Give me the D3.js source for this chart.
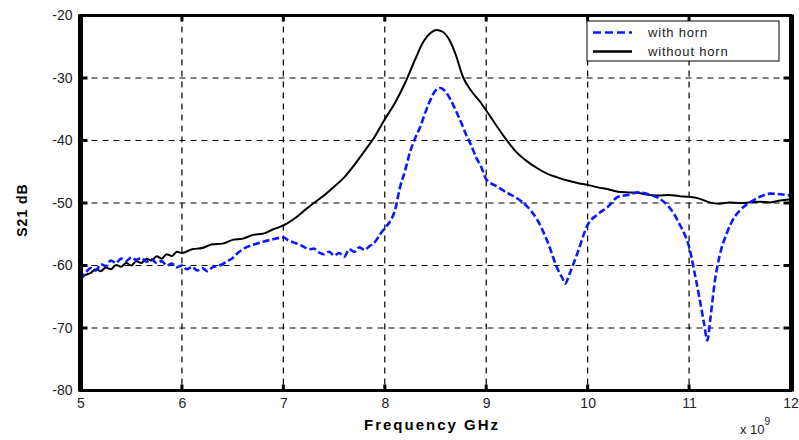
<!DOCTYPE html>
<html lang="en">
<head>
<meta charset="utf-8">
<title>S21 with / without horn</title>
<script src="https://cdn.jsdelivr.net/npm/d3@7"></script>
<style>
  body { margin: 0; background: #fff; }
  text { font-family: "Liberation Sans", Arial, sans-serif; }
</style>
</head>
<body>
<script>
// frequency in units of 1e9 Hz, S21 in dB
var freqBlack = [5.0,5.05,5.1,5.15,5.2,5.25,5.3,5.35,5.4,5.45,5.5,5.55,5.6,5.65,5.7,5.75,5.8,5.85,5.9,5.95,
  6.0,6.1,6.2,6.3,6.4,6.5,6.6,6.7,6.8,6.9,7.0,7.1,7.2,7.3,7.4,7.5,7.6,7.7,7.8,7.9,
  8.0,8.1,8.2,8.3,8.38,8.45,8.51,8.57,8.64,8.7,8.77,8.85,8.94,9.0,9.1,9.2,9.3,9.4,9.5,9.6,9.7,
  9.8,9.9,10.0,10.1,10.2,10.3,10.4,10.5,10.6,10.7,10.8,10.9,11.0,11.1,11.2,11.3,11.4,11.5,11.6,11.7,
  11.8,11.9,12.0];
var withoutHorn = [-62.0,-61.5,-61.2,-60.6,-60.9,-60.3,-60.6,-59.9,-60.2,-59.6,-60.0,-59.3,-59.6,-58.9,-59.2,-58.5,-58.9,-58.2,-58.5,-57.8,
  -58.0,-57.4,-57.2,-56.6,-56.5,-55.9,-55.7,-55.1,-54.9,-54.2,-53.6,-52.6,-51.3,-50.0,-48.8,-47.4,-45.9,-43.9,-41.7,-39.4,
  -36.6,-34.0,-30.8,-27.0,-24.2,-22.8,-22.3,-22.6,-24.0,-26.3,-29.8,-32.0,-33.8,-35.2,-37.6,-39.9,-41.9,-43.3,-44.4,-45.3,-45.9,
  -46.4,-46.8,-47.1,-47.5,-47.8,-48.2,-48.3,-48.4,-48.7,-48.8,-48.7,-48.9,-49.0,-49.3,-49.9,-50.1,-49.9,-50.0,-49.9,-49.8,
  -49.9,-49.6,-49.4];

var freqBlue = [5.0,5.05,5.1,5.15,5.2,5.25,5.3,5.35,5.4,5.45,5.5,5.55,5.6,5.65,5.7,5.75,5.8,5.85,5.9,5.95,
  6.0,6.05,6.1,6.15,6.2,6.25,6.3,6.35,6.4,6.45,6.5,6.55,6.6,6.7,6.8,6.9,7.0,7.05,7.1,7.15,
  7.2,7.25,7.3,7.35,7.4,7.45,7.5,7.55,7.6,7.65,7.7,7.75,7.8,7.85,7.9,7.95,8.0,8.05,8.1,8.15,
  8.2,8.25,8.3,8.35,8.4,8.45,8.5,8.55,8.6,8.65,8.7,8.75,8.8,8.85,8.9,8.95,9.0,9.1,9.2,9.3,
  9.4,9.5,9.6,9.7,9.75,9.78,9.82,9.9,10.0,10.1,10.2,10.3,10.4,10.5,10.6,10.7,10.8,10.85,10.9,10.95,
  11.0,11.05,11.1,11.15,11.18,11.21,11.25,11.3,11.37,11.45,11.5,11.6,11.7,11.8,11.9,12.0];
var withHorn = [-62.3,-61.2,-60.4,-60.8,-59.8,-60.1,-59.2,-59.6,-58.9,-59.3,-58.7,-59.1,-58.8,-59.4,-59.0,-59.6,-59.3,-60.0,-59.7,-60.3,
  -60.0,-60.6,-60.2,-60.8,-60.4,-60.9,-60.3,-60.1,-59.8,-59.3,-58.8,-58.0,-57.4,-56.7,-56.2,-55.8,-55.5,-56.0,-56.3,-56.6,
  -57.0,-57.4,-57.3,-57.9,-58.2,-57.8,-58.4,-58.0,-58.6,-57.4,-57.8,-57.1,-57.5,-56.9,-56.3,-55.1,-54.0,-53.0,-51.2,-47.5,
  -44.8,-41.8,-39.6,-37.8,-35.5,-33.5,-32.0,-31.6,-32.2,-33.5,-35.2,-37.0,-39.0,-40.7,-42.7,-44.2,-46.2,-47.3,-48.3,-49.2,
  -50.5,-52.6,-56.0,-60.4,-62.0,-62.9,-61.4,-58.0,-53.5,-51.8,-50.6,-49.0,-48.7,-48.3,-48.6,-49.2,-50.6,-51.7,-53.2,-54.8,
  -57.0,-60.8,-65.0,-69.5,-72.0,-68.5,-63.0,-58.5,-54.9,-52.2,-51.2,-49.9,-49.0,-48.5,-48.6,-48.8];

var xTicks = [5,6,7,8,9,10,11,12];
var yTicks = [-80,-70,-60,-50,-40,-30,-20];
var seriesNames = ["with horn", "without horn"];

var width = 799, height = 440;
var pLeft = 80.5, pRight = 790.5, pTop = 15.5, pBottom = 390.5;

var svg = d3.select("body").append("svg")
    .attr("width", width)
    .attr("height", height);

var x = d3.scaleLinear().domain([5, 12]).range([pLeft, pRight]);
var y = d3.scaleLinear().domain([-80, -20]).range([pBottom, pTop]);

// dashed grid
svg.append("g")
  .selectAll("line")
  .data(xTicks.slice(1, -1))
  .enter().append("line")
    .attr("x1", function(d){ return x(d); }).attr("x2", function(d){ return x(d); })
    .attr("y1", pTop).attr("y2", pBottom)
    .attr("stroke", "#000").attr("stroke-width", 1.2)
    .attr("stroke-dasharray", "6,5");
svg.append("g")
  .selectAll("line")
  .data(yTicks.slice(1, -1))
  .enter().append("line")
    .attr("x1", pLeft).attr("x2", pRight)
    .attr("y1", function(d){ return y(d); }).attr("y2", function(d){ return y(d); })
    .attr("stroke", "#000").attr("stroke-width", 1.2)
    .attr("stroke-dasharray", "6,5");

// curves
var line = d3.line()
    .curve(d3.curveMonotoneX)
    .x(function(d){ return x(d[0]); })
    .y(function(d){ return y(d[1]); });

svg.append("path")
    .datum(d3.zip(freqBlack, withoutHorn))
    .attr("d", line)
    .attr("fill", "none")
    .attr("stroke", "#000")
    .attr("stroke-width", 2);

svg.append("path")
    .datum(d3.zip(freqBlue, withHorn))
    .attr("d", line)
    .attr("fill", "none")
    .attr("stroke", "#0a1aff")
    .attr("stroke-width", 2.6)
    .attr("stroke-dasharray", "7,3");

// frame
svg.append("rect")
    .attr("x", pLeft).attr("y", pTop)
    .attr("width", pRight - pLeft).attr("height", pBottom - pTop)
    .attr("fill", "none").attr("stroke", "#000").attr("stroke-width", 3);
svg.append("line").attr("x1", pLeft).attr("x2", pLeft).attr("y1", pTop - 1).attr("y2", pBottom + 1)
    .attr("stroke", "#000").attr("stroke-width", 5);
svg.append("line").attr("x1", pRight + 1).attr("x2", pRight + 1).attr("y1", pTop - 1).attr("y2", pBottom + 1)
    .attr("stroke", "#000").attr("stroke-width", 5);

// inward tick marks on all four sides
var tk = svg.append("g").attr("stroke", "#000").attr("stroke-width", 3);
xTicks.slice(1, -1).forEach(function(t){
  tk.append("line").attr("x1", x(t)).attr("x2", x(t)).attr("y1", pBottom).attr("y2", pBottom - 6);
  tk.append("line").attr("x1", x(t)).attr("x2", x(t)).attr("y1", pTop).attr("y2", pTop + 6);
});
yTicks.slice(1, -1).forEach(function(t){
  tk.append("line").attr("x1", pLeft).attr("x2", pLeft + 7).attr("y1", y(t)).attr("y2", y(t));
  tk.append("line").attr("x1", pRight).attr("x2", pRight - 7).attr("y1", y(t)).attr("y2", y(t));
});

// tick labels via axes (plain hyphen minus, like the original)
var xAxis = svg.append("g")
    .attr("transform", "translate(0," + pBottom + ")")
    .call(d3.axisBottom(x).tickValues(xTicks).tickSize(0).tickPadding(8).tickFormat(function(d){ return String(d); }));
var yAxis = svg.append("g")
    .attr("transform", "translate(" + (pLeft - 4) + ",0)")
    .call(d3.axisLeft(y).tickValues(yTicks).tickSize(0).tickPadding(4).tickFormat(function(d){ return String(d); }));
[xAxis, yAxis].forEach(function(a){
  a.select(".domain").remove();
  a.selectAll("text")
    .attr("font-family", "'Liberation Sans', Arial, sans-serif")
    .attr("font-size", 14)
    .attr("fill", "#222");
});

// exponent
var ex = svg.append("text").attr("x", 740).attr("y", 434)
    .attr("font-size", 13).attr("fill", "#222");
ex.append("tspan").text("x 10");
ex.append("tspan").attr("dy", -9).attr("font-size", 10).text("9");

// axis titles
svg.append("text")
    .attr("x", 432).attr("y", 430)
    .attr("text-anchor", "middle")
    .attr("font-size", 15).attr("font-weight", "bold")
    .attr("letter-spacing", 2)
    .text("Frequency GHz");
svg.append("text")
    .attr("transform", "translate(27,210) rotate(-90)")
    .attr("text-anchor", "middle")
    .attr("font-size", 14).attr("font-weight", "bold")
    .attr("letter-spacing", 1)
    .text("S21 dB");

// legend
var lg = svg.append("g");
lg.append("rect")
    .attr("x", 587).attr("y", 21).attr("width", 192).attr("height", 40)
    .attr("fill", "#fff").attr("stroke", "#000").attr("stroke-width", 1);
lg.append("line").attr("x1", 593).attr("x2", 632).attr("y1", 32.5).attr("y2", 32.5)
    .attr("stroke", "#0a1aff").attr("stroke-width", 2.6).attr("stroke-dasharray", "8,4");
lg.append("line").attr("x1", 593).attr("x2", 632).attr("y1", 51.5).attr("y2", 51.5)
    .attr("stroke", "#000").attr("stroke-width", 2.6);
lg.selectAll("text")
  .data(seriesNames)
  .enter().append("text")
    .attr("x", 648)
    .attr("y", function(d, i){ return 37 + i * 19; })
    .attr("font-size", 13)
    .attr("letter-spacing", 0.8)
    .attr("fill", "#222")
    .text(function(d){ return d; });
</script>
</body>
</html>
